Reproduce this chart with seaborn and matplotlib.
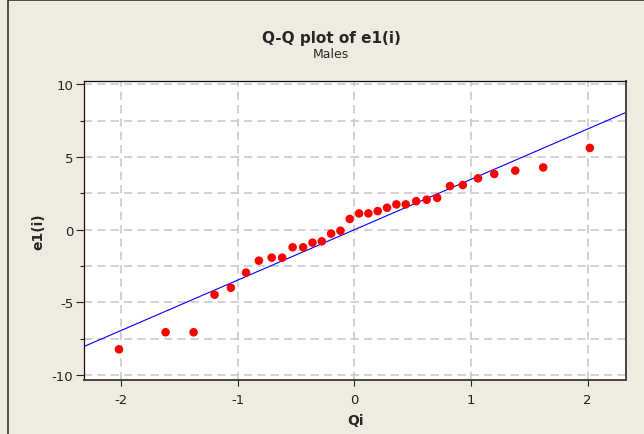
import numpy as np
import pandas as pd
import matplotlib
matplotlib.use("Agg")
import matplotlib.pyplot as plt
from matplotlib.lines import Line2D
from matplotlib.ticker import MultipleLocator
import seaborn as sns

# Normal quantiles (Qi) and ordered residuals e1(i) for the male sample
qi = [-2.02, -1.62, -1.38, -1.20, -1.06, -0.93, -0.82, -0.71, -0.62, -0.53,
      -0.44, -0.36, -0.28, -0.20, -0.12, -0.04, 0.04, 0.12, 0.20, 0.28,
      0.36, 0.44, 0.53, 0.62, 0.71, 0.82, 0.93, 1.06, 1.20, 1.38, 1.62, 2.02]
e1 = [-8.22, -7.05, -7.05, -4.47, -3.99, -2.95, -2.13, -1.92, -1.92, -1.21,
      -1.21, -0.89, -0.80, -0.27, -0.07, 0.74, 1.12, 1.12, 1.28, 1.51,
      1.74, 1.74, 1.96, 2.06, 2.19, 3.00, 3.07, 3.53, 3.83, 4.06, 4.28, 5.62]

# Reference line e = intercept + slope * Q
line_intercept = 0.0
line_slope = 3.46

x_ticks = [-2, -1, 0, 1, 2]
y_ticks = [-10, -5, 0, 5, 10]
x_limits = (-2.32, 2.33)
y_limits = (-10.33, 10.22)

title = "Q-Q plot of e1(i)"
subtitle = "Males"
x_label = "Qi"
y_label = "e1(i)"

bg = "#EFEBE1"
sns.set_style("white")
plt.rcParams["font.family"] = ["DejaVu Sans"]

df = pd.DataFrame({"Qi": qi, "e1": e1})
line_df = pd.DataFrame({"Qi": list(x_limits)})
line_df["fit"] = line_intercept + line_slope * line_df["Qi"]

fig = plt.figure(figsize=(6.44, 4.35), dpi=100, facecolor=bg)
ax = fig.add_axes([84 / 644, 1 - 381 / 435, (626 - 84) / 644, (381 - 82) / 435])
ax.set_facecolor("white")

ax.set_axisbelow(True)
ax.yaxis.set_minor_locator(MultipleLocator(2.5))
ax.grid(True, which="both", axis="y", color="#CACACA", linestyle=(0, (5, 3)), linewidth=1.2)
ax.grid(True, which="major", axis="x", color="#CACACA", linestyle=(0, (5, 3)), linewidth=1.2)

sns.lineplot(data=line_df, x="Qi", y="fit", ax=ax, color="#0000FF", linewidth=0.8, zorder=2)
sns.scatterplot(data=df, x="Qi", y="e1", ax=ax, color="#FF0000", s=38, edgecolor="none",
                linewidth=0, zorder=3)

ax.set_xlim(*x_limits)
ax.set_ylim(*y_limits)
ax.set_xticks(x_ticks)
ax.set_yticks(y_ticks)
ax.set_xticklabels([str(v) for v in x_ticks])
ax.set_yticklabels([str(v) for v in y_ticks])
ax.tick_params(axis="both", which="major", labelsize=9.5, colors="#222222", direction="out",
               width=0.8)
ax.tick_params(axis="x", which="major", length=4.5, bottom=True, pad=5)
ax.tick_params(axis="y", which="major", length=5.8, left=True, pad=2)
ax.tick_params(axis="y", which="minor", length=2.9, width=0.8, left=True, colors="#222222")

for side in ["top", "left"]:
    ax.spines[side].set_color("#111111")
    ax.spines[side].set_linewidth(0.9)
for side in ["right", "bottom"]:
    ax.spines[side].set_color("#444444")
    ax.spines[side].set_linewidth(1.4)

ax.set_xlabel(x_label, fontsize=10, fontweight="bold")
ax.set_ylabel(y_label, fontsize=10, fontweight="bold")
ax.xaxis.set_label_coords(0.5, -0.112)
ax.yaxis.set_label_coords(-0.072, 0.5)

fig.text(331 / 644, 1 - 38 / 435, title, ha="center", va="center", fontsize=11, fontweight="bold")
fig.text(331 / 644, 1 - 54 / 435, subtitle, ha="center", va="center", fontsize=9)

# window frame edges on the left and top
fig.add_artist(Line2D([8 / 644, 8 / 644], [0, 1], transform=fig.transFigure, color="#333333", linewidth=1.2))
fig.add_artist(Line2D([8 / 644, 1], [1 - 0.8 / 435, 1 - 0.8 / 435], transform=fig.transFigure,
                      color="#333333", linewidth=1.2))

fig.savefig("out.png", dpi=100, facecolor=bg)
